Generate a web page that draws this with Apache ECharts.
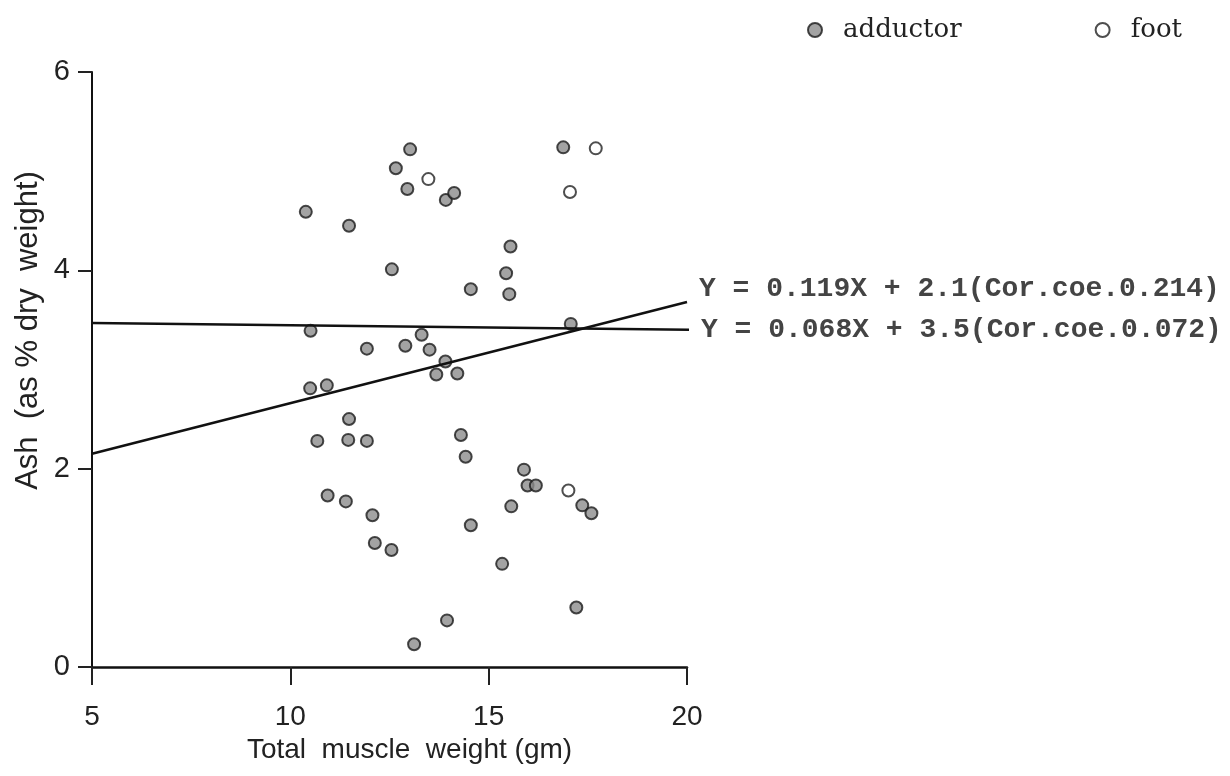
<!DOCTYPE html>
<html>
<head>
<meta charset="utf-8">
<title>Ash vs total muscle weight</title>
<script src="https://cdn.jsdelivr.net/npm/echarts@6/dist/echarts.min.js"></script>
<style>
  html, body { margin: 0; padding: 0; background: #fff; }
  #main { width: 1230px; height: 776px; }
</style>
</head>
<body>
<div id="main"></div>
<script>
// points: [muscle weight (gm), ash (% dry weight)]
var adductorPoints = [
  [10.39, 4.59], [10.51, 3.39], [10.50, 2.81], [10.92, 2.84], [10.68, 2.28], [10.94, 1.73],
  [11.48, 4.45], [11.48, 2.50], [11.46, 2.29], [11.40, 1.67], [11.93, 3.21], [11.93, 2.28],
  [12.07, 1.53], [12.13, 1.25], [12.55, 1.18], [12.56, 4.01], [12.66, 5.03], [12.90, 3.24],
  [12.95, 4.82], [13.02, 5.22], [13.12, 0.23], [13.31, 3.35], [13.51, 3.20], [13.68, 2.95],
  [13.91, 3.08], [13.92, 4.71], [13.95, 0.47], [14.13, 4.78], [14.21, 2.96], [14.30, 2.34],
  [14.42, 2.12], [14.55, 3.81], [14.55, 1.43], [15.34, 1.04], [15.44, 3.97], [15.52, 3.76],
  [15.55, 4.24], [15.57, 1.62], [15.89, 1.99], [15.98, 1.83], [16.19, 1.83], [16.88, 5.24],
  [17.07, 3.46], [17.21, 0.60], [17.36, 1.63], [17.59, 1.55]
];
var footPoints = [
  [13.48, 4.92], [17.05, 4.79], [17.70, 5.23], [17.01, 1.78]
];

// regression lines as drawn (end points)
var fitSloped = [[5, 2.15], [20, 3.68]];
var fitFlat = [[5, 3.47], [20.15, 3.40]];
var equations = [
  "Y = 0.119X + 2.1(Cor.coe.0.214)",
  "Y = 0.068X + 3.5(Cor.coe.0.072)"
];

var xTicks = [5, 10, 15, 20];
var yTicks = [0, 2, 4, 6];

var handFont = "Liberation Sans";
var myChart = echarts.init(document.getElementById("main"));

function eqLabel(text, offset) {
  return {
    show: true,
    formatter: text,
    fontFamily: "Liberation Mono",
    fontSize: 28,
    fontWeight: "bold",
    color: "#444",
    distance: 12,
    offset: offset
  };
}

myChart.setOption({
  animation: false,
  backgroundColor: "#fff",
  legend: {
    data: ["adductor", "foot"],
    left: 802,
    top: 12,
    icon: "circle",
    itemWidth: 14,
    itemHeight: 14,
    itemGap: 133,
    textStyle: {
      fontFamily: "DejaVu Serif",
      fontSize: 26,
      color: "#222",
      padding: [0, 0, 0, 16]
    }
  },
  grid: {
    left: 92,
    right: 543,
    top: 72,
    bottom: 109
  },
  xAxis: {
    type: "value",
    min: xTicks[0],
    max: xTicks[xTicks.length - 1],
    interval: 5,
    name: "Total  muscle  weight (gm)",
    nameLocation: "middle",
    nameGap: 68,
    nameTextStyle: {
      fontFamily: handFont,
      fontSize: 28,
      color: "#222",
      padding: [0, 0, 0, 40]
    },
    axisLine: { lineStyle: { color: "#111", width: 2.5 } },
    axisTick: { show: true, length: 18, lineStyle: { color: "#222", width: 2 } },
    axisLabel: { margin: 36, fontFamily: handFont, fontSize: 28, color: "#222" },
    splitLine: { show: false }
  },
  yAxis: {
    type: "value",
    min: yTicks[0],
    max: yTicks[yTicks.length - 1],
    interval: 2,
    name: "Ash  (as % dry  weight)",
    nameLocation: "middle",
    nameGap: 48,
    nameTextStyle: {
      fontFamily: handFont,
      fontSize: 31,
      color: "#222",
      padding: [0, 0, 0, 78]
    },
    axisLine: { show: true, lineStyle: { color: "#111", width: 2 } },
    axisTick: { show: true, length: 14, lineStyle: { color: "#222", width: 2 } },
    axisLabel: { margin: 22, fontFamily: handFont, fontSize: 29, color: "#222" },
    splitLine: { show: false }
  },
  series: [
    {
      name: "adductor",
      type: "scatter",
      data: adductorPoints,
      symbol: "circle",
      symbolSize: 12,
      itemStyle: { color: "#8c8c8c", borderColor: "#1a1a1a", borderWidth: 2 }
    },
    {
      name: "foot",
      type: "scatter",
      data: footPoints,
      symbol: "circle",
      symbolSize: 12,
      itemStyle: { color: "#fff", borderColor: "#222", borderWidth: 2 }
    },
    {
      name: "fit1",
      type: "line",
      data: fitSloped,
      symbol: "none",
      silent: true,
      clip: false,
      lineStyle: { color: "#111", width: 2.5 },
      endLabel: eqLabel(equations[0], [0, -13])
    },
    {
      name: "fit2",
      type: "line",
      data: fitFlat,
      symbol: "none",
      silent: true,
      clip: false,
      lineStyle: { color: "#111", width: 2.5 },
      endLabel: eqLabel(equations[1], [0, 0])
    }
  ]
});
</script>
</body>
</html>
